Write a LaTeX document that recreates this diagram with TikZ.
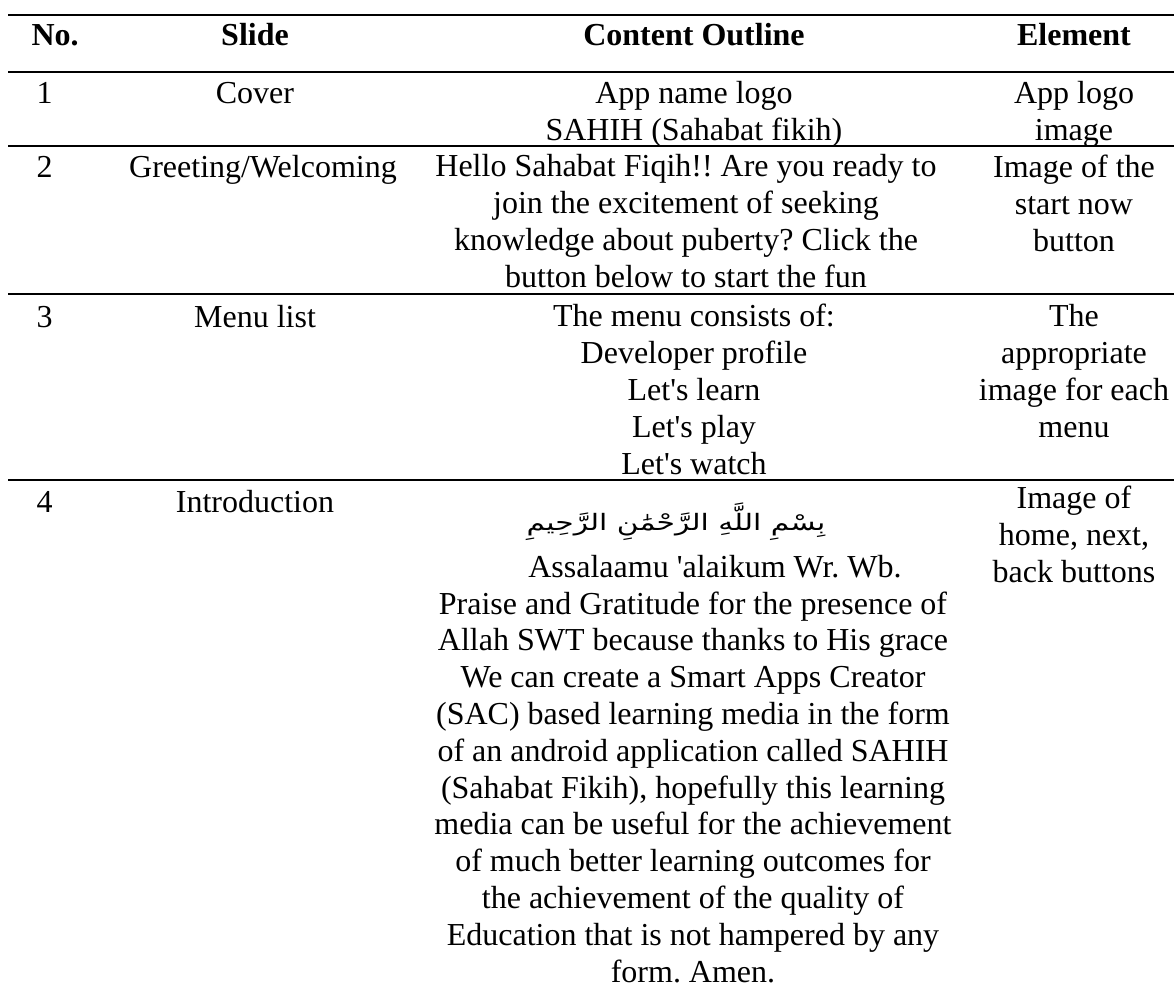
\documentclass[tikz,border=0pt]{standalone}
\usepackage{graphicx}
\usepackage{fontspec}
\setmainfont{Liberation Serif}[Ligatures=TeXOff]
\newfontfamily\arabicfont[Script=Arabic]{DejaVu Sans}
\TeXXeTstate=1
\frenchspacing
\tikzset{
  cell/.style={anchor=base, inner sep=0pt, align=center,
    font=\fontsize{12pt}{13.8pt}\selectfont},
  head/.style={cell, font=\fontsize{12pt}{13.8pt}\selectfont\bfseries},
  rule/.style={line width=1pt}
}
\begin{document}
\begin{tikzpicture}[x=0.375pt, y=-0.375pt]
\useasboundingbox (0,0) rectangle (1174,985);

% righe orizzontali
\foreach \y in {15,72,146,294,480}
  \draw[rule] (8,\y) -- (1174,\y);

% intestazione
\node[head, anchor=base west] (hno) at (31,45) {No.};
\node[head] (hslide) at (255,45) {Slide};
\node[head] (houtline) at (694,45) {Content Outline};
\node[head] (helement) at (1074,45) {Element};

% slide 1 (base = ultima riga)
\node[cell, anchor=base west] (no1) at (36,103) {1};
\node[cell] (slide1) at (255,103) {Cover};
\node[cell] (outline1) at (694,140) {App name logo\\SAHIH (Sahabat fikih)};
\node[cell] (element1) at (1074,140) {App logo\\image};

% slide 2
\node[cell, anchor=base west] (no2) at (36,177) {2};
\node[cell] (slide2) at (263,177) {Greeting/Welcoming};
\node[cell] (outline2) at (686,287) {Hello Sahabat Fiqih!! Are you ready to\\join the excitement of seeking\\knowledge about puberty? Click the\\button below to start the fun};
\node[cell] (element2) at (1074,251) {Image of the\\start now\\button};

% slide 3
\node[cell, anchor=base west] (no3) at (36,327) {3};
\node[cell] (slide3) at (255,327) {Menu list};
\node[cell] (outline3) at (694,474) {The menu consists of:\\Developer profile\\Let's learn\\Let's play\\Let's watch};
\node[cell] (element3) at (1074,437) {The\\appropriate\\image for each\\menu};

% slide 4
\node[cell, anchor=base west] (no4) at (36,512) {4};
\node[cell] (slide4) at (255,512) {Introduction};
\node[inner sep=0pt] (basmala) at (676,522) {\resizebox*{112pt}{14pt}{\arabicfont\beginR بِسْمِ اللَّهِ الرَّحْمَٰنِ الرَّحِيمِ\endR}};
\node[cell] (salam) at (715,577) {Assalaamu 'alaikum Wr. Wb.};
\node[cell] (outline4) at (693,982) {Praise and Gratitude for the presence of\\Allah SWT because thanks to His grace\\We can create a Smart Apps Creator\\(SAC) based learning media in the form\\of an android application called SAHIH\\(Sahabat Fikih), hopefully this learning\\media can be useful for the achievement\\of much better learning outcomes for\\the achievement of the quality of\\Education that is not hampered by any\\form. Amen.};
\node[cell] (element4) at (1074,582) {Image of\\home, next,\\back buttons};

\end{tikzpicture}
\end{document}
